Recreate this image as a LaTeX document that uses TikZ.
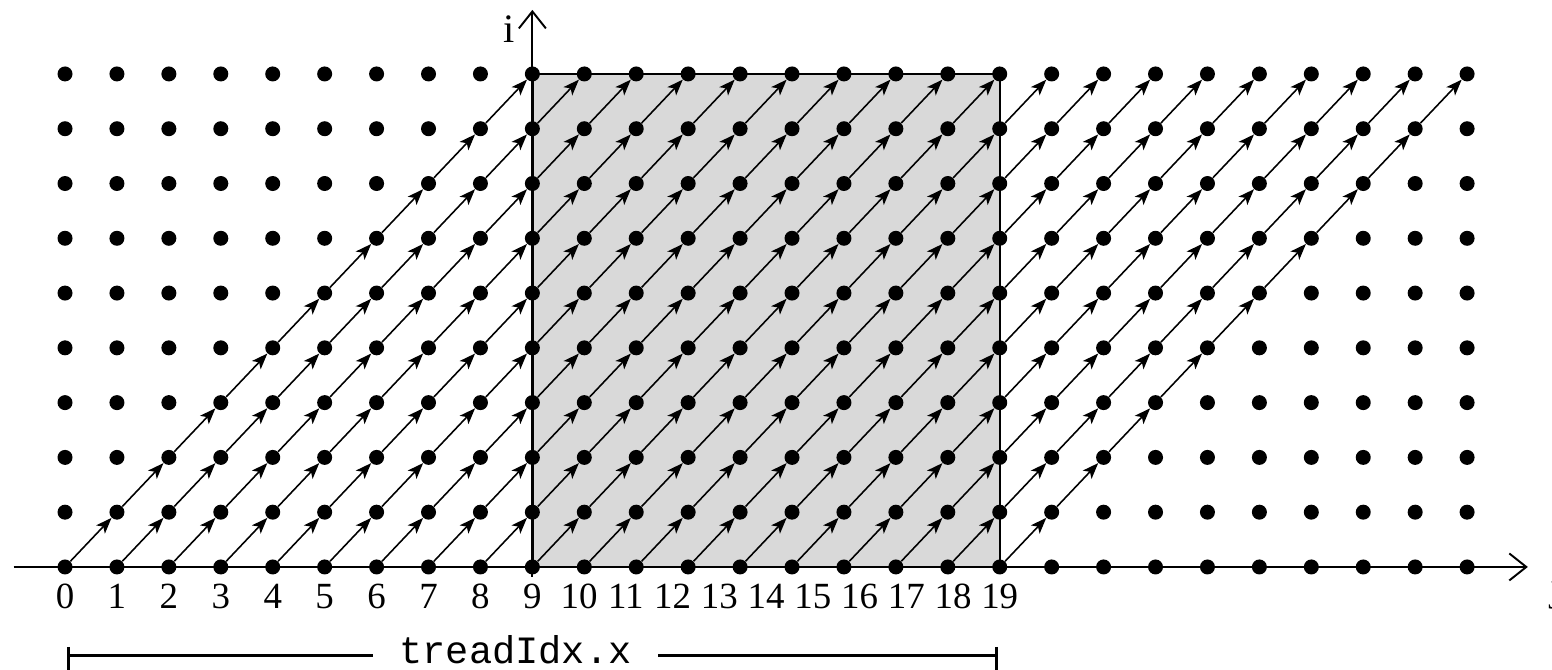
\documentclass[tikz,border=0pt]{standalone}
\usepackage{fontspec}
\setmainfont{Liberation Serif}
\setmonofont{Liberation Mono}
\usetikzlibrary{arrows.meta}
\definecolor{blockgrey}{HTML}{D9D9D9}

\begin{document}
\begin{tikzpicture}[
    x=1.0386cm, y=1.0956cm,
    latticept/.style={circle, fill=black, inner sep=0pt, minimum size=0.30cm},
    deparrow/.style={line width=0.9pt, -{Stealth[length=3.2mm, width=2.4mm, inset=0.8mm]}},
    axisline/.style={line width=1.1pt, -{Straight Barb[length=3.4mm, width=5.4mm]}},
    ticklabel/.style={font=\fontsize{21}{25}\selectfont, anchor=base, inner sep=0pt},
    axislabel/.style={font=\fontsize{23}{27}\selectfont, anchor=base, inner sep=0pt},
    extentline/.style={line width=1.6pt},
]
\useasboundingbox (-1.252,-1.880) rectangle (28.635,10.350);

% Shaded thread block
\fill[blockgrey] (9,0) rectangle (18,9);

% Axes
\draw[axisline] (-0.99,0) -- (28.17,0);
\draw[axisline] (9,-0.18) -- (9,10.17);
\node[axislabel] (ilabel) at (8.55,9.57) {i};
\node[axislabel] (jlabel) at (28.72,-0.62) {j};

% Block outline
\draw[line width=1.1pt] (9,9) -- (18,9) -- (18,0);
\draw[line width=1.8pt] (9,0) -- (9,9);

% Lattice points
\foreach \j in {0,...,27} {
    \foreach \i in {0,...,9} {
        \node[latticept] (p-\j-\i) at (\j,\i) {};
    }
}

% Dependence arrows
\foreach \i in {0,...,8} {
    \foreach \d in {0,...,18} {
        \pgfmathtruncatemacro{\j}{\i+\d}
        \pgfmathtruncatemacro{\jj}{\j+1}
        \pgfmathtruncatemacro{\ii}{\i+1}
        \draw[deparrow] (p-\j-\i) -- (p-\jj-\ii);
    }
}

% Index labels
\foreach \j in {0,...,9} {
    \node[ticklabel] (lbl-\j) at (\j,-0.767) {\j};
}
\foreach \k in {10,...,19} {
    \node[ticklabel] (lbl-\k) at ({9+(\k-9)*0.9},-0.767) {\k};
}

% Thread extent
\node[font=\fontsize{22}{26}\selectfont\ttfamily, anchor=base, inner xsep=0.52cm, inner ysep=0pt]
    (tid) at (8.675,-1.76) {treadIdx.x};
\coordinate (tl) at (0.06,-1.62);
\coordinate (tr) at (17.94,-1.62);
\draw[extentline] (tl) -- (tl -| tid.west);
\draw[extentline] (tr) -- (tr -| tid.east);
\draw[extentline] (tl) ++(0,0.16) -- ++(0,-0.5);
\draw[extentline] (tr) ++(0,0.16) -- ++(0,-0.5);

\end{tikzpicture}
\end{document}
